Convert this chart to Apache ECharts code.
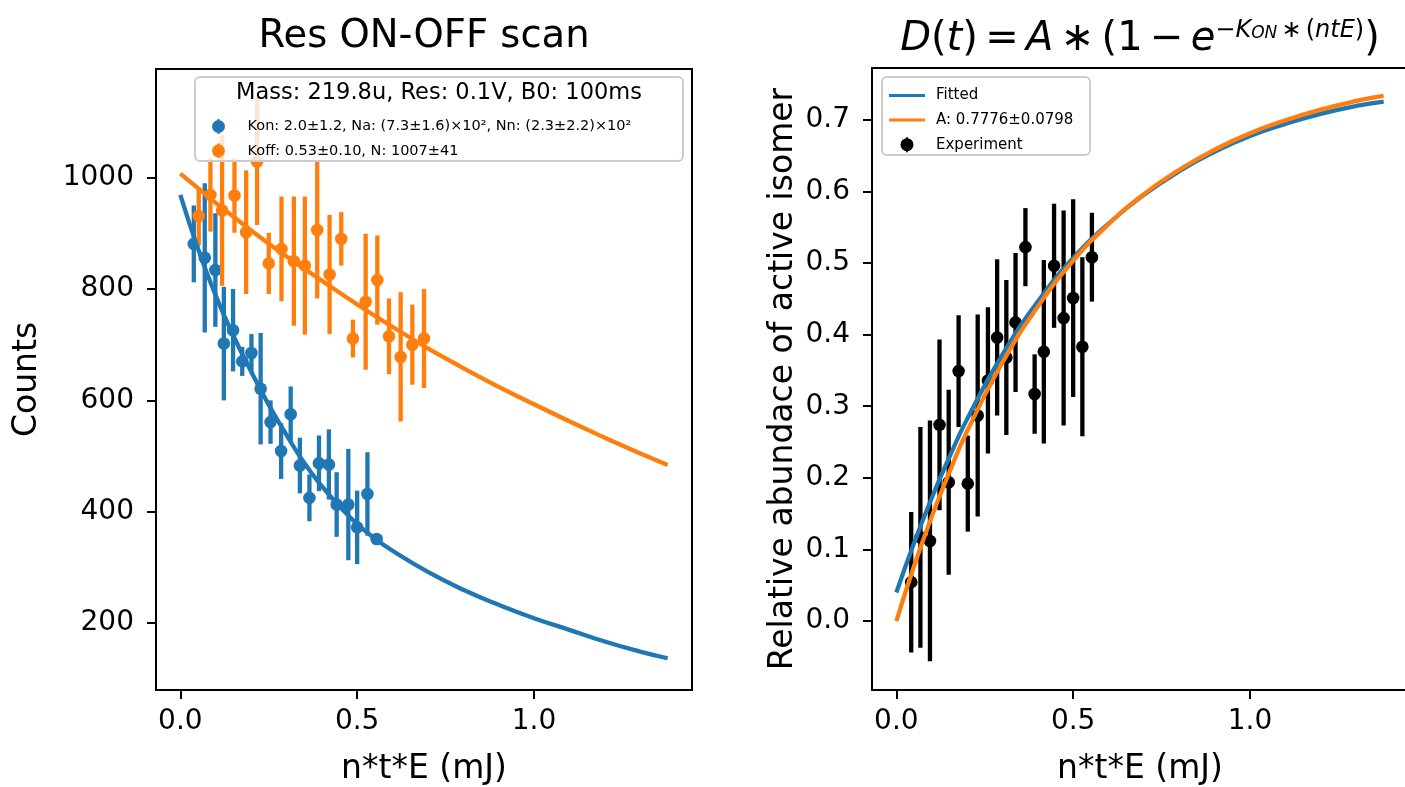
<!DOCTYPE html>
<html><head><meta charset="utf-8">
<script src="https://cdn.jsdelivr.net/npm/echarts@6/dist/echarts.min.js"></script>
<style>html,body{margin:0;padding:0;background:#fff}#c{width:1405px;height:787px}</style>
</head><body><div id="c"></div>
<script>
// ---- Left panel: Res ON-OFF scan ----
const konX   = [0.038,0.069,0.099,0.123,0.149,0.175,0.201,0.227,0.255,0.285,0.312,0.338,0.365,0.392,0.420,0.442,0.475,0.500,0.529,0.555];
const konY   = [881,856,834,702,726,670,685,621,561,509,575,483,425,487,485,413,413,372,432,351];
const konErr = [69,134,102,102,74,26,34,100,39,50,50,50,42,50,63,58,100,66,75,8];

const koffX   = [0.052,0.085,0.118,0.153,0.186,0.217,0.250,0.286,0.321,0.352,0.387,0.422,0.455,0.488,0.524,0.557,0.590,0.623,0.656,0.689];
const koffY   = [931,969,941,968,902,1029,846,872,850,842,906,826,890,711,777,816,715,678,700,711];
const koffErr = [52,66,135,67,111,114,55,94,116,124,123,107,48,34,122,80,68,116,72,89];

const konFitX = [0,0.05,0.1,0.15,0.2,0.25,0.3,0.35,0.4,0.45,0.5,0.55,0.6,0.7,0.8,0.9,1.0,1.1,1.2,1.3,1.378];
const konFitY = [969,872,788,716,652,592,538,488,446,410,378,352,330,292,260,233,209,188,167,149,137];

const koffFitX = [0,0.2,0.4,0.6,0.8,1.0,1.2,1.378];
const koffFitY = [1007,905,815,732,658,593,533,484];

// ---- Right panel: D(t) fit ----
const expX   = [0.042,0.068,0.095,0.122,0.148,0.176,0.202,0.230,0.259,0.285,0.311,0.337,0.365,0.391,0.417,0.446,0.473,0.500,0.526,0.553];
const expY   = [0.0545,0.117,0.112,0.274,0.194,0.349,0.192,0.287,0.336,0.396,0.368,0.417,0.522,0.317,0.376,0.496,0.423,0.451,0.383,0.508];
const expErr = [0.098,0.154,0.168,0.119,0.129,0.078,0.067,0.141,0.102,0.109,0.108,0.097,0.0545,0.0554,0.128,0.0866,0.150,0.138,0.125,0.062];

const curveX  = [0,0.05,0.1,0.15,0.2,0.3,0.4,0.5,0.6,0.7,0.8,0.9,1.0,1.1,1.2,1.3,1.378];
const fittedY = [0.040,0.109,0.172,0.229,0.282,0.372,0.446,0.507,0.555,0.595,0.628,0.655,0.677,0.694,0.708,0.719,0.725];
const modelY  = [0.000,0.077,0.146,0.208,0.265,0.361,0.439,0.503,0.554,0.596,0.630,0.658,0.681,0.699,0.714,0.726,0.733];

// ---- Ticks & labels ----
const xTicks      = [0, 0.5, 1.0];
const countsTicks = [200, 400, 600, 800, 1000];
const abundTicks  = [0, 0.1, 0.2, 0.3, 0.4, 0.5, 0.6, 0.7];

const konName  = 'Kon: 2.0±1.2, Na: (7.3±1.6)×10², Nn: (2.3±2.2)×10²';
const koffName = 'Koff: 0.53±0.10, N: 1007±41';
const legendTitle = 'Mass: 219.8u, Res: 0.1V, B0: 100ms';
const fitName = 'Fitted';
const modelName = 'A: 0.7776±0.0798';
const expName = 'Experiment';

const BLUE = '#1f77b4', ORANGE = '#ff7f0e', BLACK = '#000000';
const FONT = 'DejaVu Sans';

function zip3(a,b,c){ return a.map((v,i)=>[v,b[i],c[i]]); }
function zip2(a,b){ return a.map((v,i)=>[v,b[i]]); }

function errRender(color){
  return function(params, api){
    const x = api.value(0), y = api.value(1), e = api.value(2);
    const c = api.coord([x, y]);
    const t = api.coord([x, y + e]);
    const b = api.coord([x, y - e]);
    return {type:'group', children:[
      {type:'line', shape:{x1:c[0], y1:t[1], x2:c[0], y2:b[1]}, style:{stroke:color, lineWidth:4.3}},
      {type:'circle', shape:{cx:c[0], cy:c[1], r:6.3}, style:{fill:color}}
    ]};
  };
}

const markerIcon = 'path://M5.5,0h2v15h-2z M0,7.5a6.5,6.5 0 1,1 13,0a6.5,6.5 0 1,1 -13,0z';
const lineIcon = 'path://M0,0h36v3h-36z';

const XMIN = -0.0689, XMAX = 1.4469;
const LABEL_SIZE = 33;
const AXLINE = {show:true, onZero:false, lineStyle:{color:'#000', width:2}};

function xAxis(idx){
  return {type:'value', gridIndex:idx, min:XMIN, max:XMAX, position:'bottom',
    axisLine:AXLINE, splitLine:{show:false},
    axisTick:{show:true, length:9, customValues:xTicks, lineStyle:{color:'#000', width:2}},
    axisLabel:{customValues:xTicks, formatter:v=>Number(v).toFixed(1), fontSize:28, color:'#000', fontFamily:FONT, margin:18},
    name:'n*t*E (mJ)', nameLocation:'middle', nameGap:63,
    nameTextStyle:{fontSize:LABEL_SIZE, color:'#000', fontFamily:FONT}};
}
function frameAxis(idx, pos, isX){
  const a = {type:'value', gridIndex:idx, position:pos, axisLine:AXLINE,
    axisTick:{show:false}, axisLabel:{show:false}, splitLine:{show:false}};
  if (isX) { a.min = XMIN; a.max = XMAX; }
  return a;
}

const T = {fontFamily:FONT, color:'#000'};
const option = {
  animation:false,
  backgroundColor:'#fff',
  title:[
    {text:'Res ON-OFF scan', left:424, top:17, textAlign:'center', padding:0,
     textStyle:{fontSize:38.5, fontWeight:'normal', color:'#000', fontFamily:FONT}},
    {text:'{i|D}{r|(}{i|t}{r|)}{s| }{r|=}{s| }{i|A}{s| }{r|∗}{s| }{r|(1}{s| }{r|−}{s| }{i|e}{sup|−}{supi|K}{sub|ON}{ss| }{sup|∗}{ss| }{sup|(}{supi|ntE}{sup|)}{r|)}',
     left:1140, top:9, textAlign:'center', padding:0,
     textStyle:{fontSize:40, color:'#000', fontFamily:FONT, fontWeight:'normal',
       rich:{
         i:Object.assign({fontSize:40, fontStyle:'italic', lineHeight:51, verticalAlign:'bottom'}, T),
         r:Object.assign({fontSize:40, lineHeight:51, verticalAlign:'bottom'}, T),
         s:Object.assign({fontSize:23, lineHeight:51, verticalAlign:'bottom'}, T),
         sup:Object.assign({fontSize:24, lineHeight:20, verticalAlign:'top', padding:[10,0,0,0]}, T),
         ss:Object.assign({fontSize:13, lineHeight:20, verticalAlign:'top', padding:[10,0,0,0]}, T),
         supi:Object.assign({fontSize:24, fontStyle:'italic', lineHeight:20, verticalAlign:'top', padding:[10,0,0,0]}, T),
         sub:Object.assign({fontSize:17, fontStyle:'italic', lineHeight:20, verticalAlign:'top', padding:[16,0,0,0]}, T)
       }}}
  ],
  grid:[
    {left:156, top:69, width:536, height:621, outerBoundsMode:'none', containLabel:false,
     show:true, borderColor:'#000', borderWidth:2, backgroundColor:'transparent'},
    {left:872, top:68, width:536, height:622, outerBoundsMode:'none', containLabel:false, show:false}
  ],
  xAxis:[xAxis(0), xAxis(1), frameAxis(1, 'top', true)],
  yAxis:[
    {type:'value', gridIndex:0, min:80, max:1195,
     axisLine:AXLINE, splitLine:{show:false},
     axisTick:{show:true, length:9, customValues:countsTicks, lineStyle:{color:'#000', width:2}},
     axisLabel:{customValues:countsTicks, formatter:v=>String(Math.round(v)), fontSize:28, color:'#000', fontFamily:FONT, margin:22},
     name:'Counts', nameLocation:'middle', nameGap:112, nameRotate:90,
     nameTextStyle:{fontSize:LABEL_SIZE, color:'#000', fontFamily:FONT}},
    {type:'value', gridIndex:1, min:-0.096, max:0.772, position:'left',
     axisLine:AXLINE, splitLine:{show:false},
     axisTick:{show:true, length:9, customValues:abundTicks, lineStyle:{color:'#000', width:2}},
     axisLabel:{customValues:abundTicks, formatter:v=>Number(v).toFixed(1), fontSize:28, color:'#000', fontFamily:FONT, margin:22},
     name:'Relative abundace of active isomer', nameLocation:'middle', nameGap:72, nameRotate:90,
     nameTextStyle:{fontSize:LABEL_SIZE, color:'#000', fontFamily:FONT}}
  ],
  legend:[
    {left:207, top:114, orient:'vertical', itemWidth:44, itemHeight:15, itemGap:9.3, selectedMode:false, z:10,
     textStyle:{fontSize:14.5, lineHeight:15, color:'#000', fontFamily:FONT, padding:[0,0,0,2]},
     data:[{name:konName, icon:markerIcon, itemStyle:{color:BLUE}},
           {name:koffName, icon:markerIcon, itemStyle:{color:ORANGE}}]},
    {left:884, top:83, orient:'vertical', itemWidth:36, itemHeight:15, itemGap:9.6, selectedMode:false, z:10,
     textStyle:{fontSize:15, lineHeight:15, color:'#000', fontFamily:FONT, padding:[0,0,0,6]},
     data:[{name:fitName, icon:lineIcon, itemStyle:{color:BLUE}},
           {name:modelName, icon:lineIcon, itemStyle:{color:ORANGE}},
           {name:expName, icon:markerIcon, itemStyle:{color:BLACK}}]}
  ],
  graphic:[
    {type:'rect', z:5, shape:{x:195, y:77, width:488, height:84, r:5},
     style:{fill:'rgba(255,255,255,0.8)', stroke:'#cccccc', lineWidth:2}},
    {type:'text', z:6, x:439, y:93,
     style:{text:legendTitle, fontSize:22.5, fontFamily:FONT, fill:'#000', align:'center', verticalAlign:'middle'}},
    {type:'rect', z:5, shape:{x:882, y:77, width:208, height:78, r:5},
     style:{fill:'rgba(255,255,255,0.8)', stroke:'#cccccc', lineWidth:2}}
  ],
  series:[
    {type:'custom', name:konName, xAxisIndex:0, yAxisIndex:0, renderItem:errRender(BLUE),
     itemStyle:{color:BLUE}, encode:{x:0, y:1}, data:zip3(konX, konY, konErr), z:2},
    {type:'custom', name:koffName, xAxisIndex:0, yAxisIndex:0, renderItem:errRender(ORANGE),
     itemStyle:{color:ORANGE}, encode:{x:0, y:1}, data:zip3(koffX, koffY, koffErr), z:2},
    {type:'line', name:'konFit', xAxisIndex:0, yAxisIndex:0, data:zip2(konFitX, konFitY), smooth:true,
     showSymbol:false, lineStyle:{color:BLUE, width:4.3}, itemStyle:{color:BLUE}, z:3},
    {type:'line', name:'koffFit', xAxisIndex:0, yAxisIndex:0, data:zip2(koffFitX, koffFitY), smooth:true,
     showSymbol:false, lineStyle:{color:ORANGE, width:4.3}, itemStyle:{color:ORANGE}, z:3},

    {type:'custom', name:expName, xAxisIndex:1, yAxisIndex:1, renderItem:errRender(BLACK),
     itemStyle:{color:BLACK}, encode:{x:0, y:1}, data:zip3(expX, expY, expErr), z:2},
    {type:'line', name:fitName, xAxisIndex:1, yAxisIndex:1, data:zip2(curveX, fittedY), smooth:true,
     showSymbol:false, lineStyle:{color:BLUE, width:4.3}, itemStyle:{color:BLUE}, z:3},
    {type:'line', name:modelName, xAxisIndex:1, yAxisIndex:1, data:zip2(curveX, modelY), smooth:true,
     showSymbol:false, lineStyle:{color:ORANGE, width:4.3}, itemStyle:{color:ORANGE}, z:3}
  ]
};

const chart = echarts.init(document.getElementById('c'), null, {renderer:'canvas'});
chart.setOption(option);
</script>
</body></html>
